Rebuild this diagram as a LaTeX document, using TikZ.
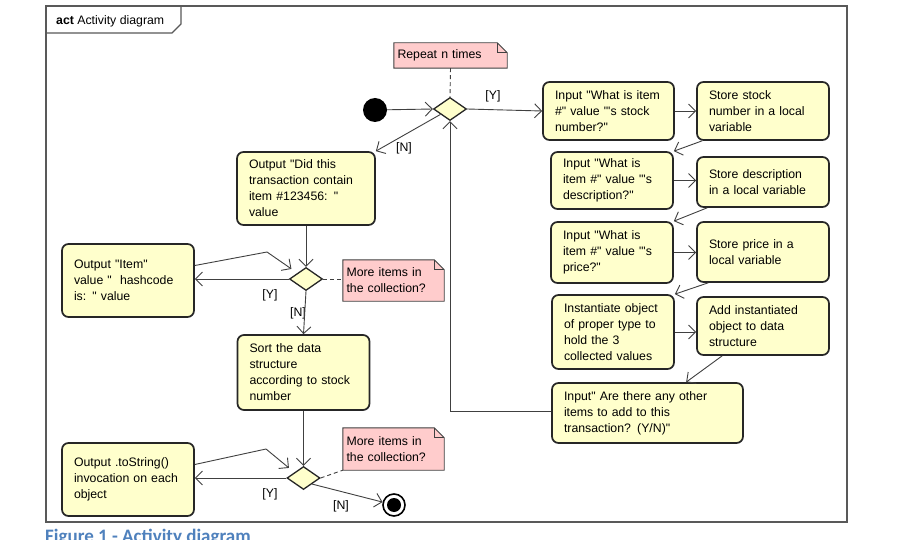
\documentclass[tikz,border=0pt]{standalone}
\usepackage{fontspec}
\newfontfamily\umlf{Liberation Sans}
\newfontfamily\capfont{Carlito}
\usetikzlibrary{arrows.meta,shapes.geometric}
\definecolor{uyel}{RGB}{255,255,204}
\definecolor{upink}{RGB}{255,204,204}
\definecolor{capblue}{RGB}{79,129,189}
\definecolor{edge}{RGB}{64,64,64}
\pgfdeclarelayer{notebg}
\pgfsetlayers{notebg,main}
\newcommand\notedraw[1]{%
  \begin{pgfonlayer}{notebg}
  \draw[notest] (#1.north west) -- ([shift={(-10,0)}]#1.north east) -- ([shift={(0,10)}]#1.north east) -- (#1.south east) -- (#1.south west) -- cycle;
  \draw[notefold] ([shift={(-10,0)}]#1.north east) -- ([shift={(-10,10)}]#1.north east) -- ([shift={(0,10)}]#1.north east);
  \end{pgfonlayer}}
\begin{document}
\begin{tikzpicture}[x=1pt,y=-1pt,
  every node/.style={font=\umlf\fontsize{12.3}{16}\selectfont},
  actbox/.style={draw=black!85, line width=1.7pt, rounded corners=6.5pt, fill=uyel, align=left, inner xsep=12pt, inner ysep=0pt},
  dec/.style={diamond, draw=black!85, line width=1.3pt, fill=uyel, minimum width=33pt, minimum height=23pt, inner sep=0pt},
  notebx/.style={align=left, inner xsep=3.5pt, inner ysep=0pt},
  notest/.style={draw=black!75, line width=0.9pt, fill=upink},
  notefold/.style={draw=black!75, line width=0.9pt},
  arr/.style={draw=edge, line width=0.9pt, -{Straight Barb[length=7pt,width=14pt]}},
  dsh/.style={draw=edge, line width=0.9pt, dash pattern=on 4pt off 3pt},
  lbl/.style={inner sep=0pt}]
\begin{pgfonlayer}{notebg}
\fill[white] (0,0) rectangle (905,540);
\end{pgfonlayer}
\useasboundingbox (0,0) rectangle (905,540);

% frame
\draw[draw=black!65, line width=1.4pt] (46,6) rectangle (847,522);
\draw[draw=black!65, line width=1.2pt] (46,33) -- (172,33) -- (181,24) -- (181,6);
\node[anchor=base west, inner sep=0pt] (title) at (56,25) {\textbf{act} Activity diagram};

% caption (cut by the page edge, as in the reference)
\begin{scope}
\clip (0,0) rectangle (905,540);
\node[anchor=base west, inner sep=0pt, font=\capfont\bfseries\fontsize{19}{22}\selectfont, text=capblue] (cap) at (45,542) {Figure 1 - Activity diagram};
\end{scope}

% start / decision 1 / note
\node[circle, fill=black, minimum size=24pt, inner sep=0pt] (init) at (375,110) {};
\node[dec] (d1) at (450,109) {};
\node[notebx, text width=106pt, minimum height=25pt] (n1) at (450.5,55.5) {Repeat n times};
\notedraw{n1}

% right column
\node[actbox, text width=107pt, minimum height=58pt] (A1) at (608.5,111) {Input "What is item\\\#" value "'s stock\\number?"};
\node[actbox, text width=108pt, minimum height=58pt] (B1) at (763,111) {Store stock\\number in a local\\variable};
\node[actbox, text width=98pt, minimum height=57pt] (A2) at (612,180.5) {Input "What is\\item \#" value "'s\\description?"};
\node[actbox, text width=108pt, minimum height=50pt] (B2) at (763,182) {Store description\\in a local variable};
\node[actbox, text width=98pt, minimum height=61pt] (A3) at (612,252.5) {Input "What is\\item \#" value "'s\\price?"};
\node[actbox, text width=108pt, minimum height=60pt] (B3) at (763,252) {Store price in a\\local variable};
\node[actbox, text width=98pt, minimum height=74pt] (A4) at (613,332) {Instantiate object\\of proper type to\\hold the 3\\collected values};
\node[actbox, text width=108pt, minimum height=58pt] (B4) at (763,326) {Add instantiated\\object to data\\structure};
\node[actbox, text width=167pt, minimum height=60pt] (A5) at (647.5,413) {Input" Are there any other\\items to add to this\\transaction? (Y/N)"};

% left part
\node[actbox, text width=114pt, minimum height=73pt] (O1) at (306,188.5) {Output "Did this\\transaction contain\\item \#123456: "\\value};
\node[dec] (d2) at (306,279) {};
\node[notebx, text width=94pt, minimum height=41pt] (n2) at (393.5,280.5) {More items in\\the collection?};
\notedraw{n2}
\node[actbox, text width=108pt, minimum height=73pt] (IT) at (128,280.5) {Output "Item"\\value "\ \ hashcode\\is: " value};
\node[actbox, text width=108pt, minimum height=75pt] (SO) at (303.5,372.5) {Sort the data\\structure\\according to stock\\number};
\node[dec] (d3) at (303.5,478) {};
\node[notebx, text width=94pt, minimum height=42pt] (n3) at (393.5,449) {More items in\\the collection?};
\notedraw{n3}
\node[actbox, text width=108pt, minimum height=73pt] (TS) at (128,479.5) {Output .toString()\\invocation on each\\object};
\node[circle, draw=black, line width=1.6pt, fill=white, minimum size=22pt, inner sep=0pt] (fin) at (394,505) {};
\node[circle, fill=black, minimum size=14pt, inner sep=0pt] (finc) at (394,505) {};

% coordinates for bends
\coordinate (c1) at (267,252);
\coordinate (c2) at (266,449);
\coordinate (lp) at (450,411);

% connectors
\draw[arr] (init) -- (d1.west);
\draw[dsh] (n1.south) -- (d1.north);
\draw[arr] (d1.east) -- (A1.west);
\node[lbl] (ly1) at (493,96) {[Y]};
\draw[arr] (d1) -- (O1.north east);
\node[lbl] (ln1) at (404,148) {[N]};
\draw[arr] (A1.east) -- (A1.east -| B1.west);
\draw[arr] ([shift={(6,0)}]B1.south west) -- (A2.north east);
\draw[arr] (A2.east) -- (A2.east -| B2.west);
\draw[arr] ([shift={(11,0)}]B2.south west) -- (A3.north east);
\draw[arr] (A3.east) -- (A3.east -| B3.west);
\draw[arr] ([shift={(12,0)}]B3.south west) -- (A4.north east);
\draw[arr] (A4.east) -- (A4.east -| B4.west);
\draw[arr] ([shift={(26,0)}]B4.south west) -- ([shift={(135,0)}]A5.north west);
\draw[arr] (A5.west |- lp) -- (lp) -- (d1.south);

\draw[arr] (O1.south) -- (d2.north);
\draw[dsh] (d2.east) -- (d2.east -| n2.west);
\draw[arr] (d2.west) -- (d2.west -| IT.east);
\node[lbl] (ly2) at (270,295) {[Y]};
\draw[arr] ([shift={(0,-15)}]IT.east) -- (c1) -- ([shift={(-6,-4)}]d2.north west);
\node[lbl] (ln2) at (298,313) {[N]};
\draw[arr] (d2.south) -- (SO.north);

\draw[arr] (SO.south) -- (d3.north);
\draw[dsh] (d3.east) -- (n3.south west);
\draw[arr] (d3.west) -- (d3.west -| TS.east);
\node[lbl] (ly3) at (270,494) {[Y]};
\draw[arr] ([shift={(0,-15)}]TS.east) -- (c2) -- ([shift={(-6,-4)}]d3.north west);
\draw[arr] (d3.south east) -- (fin);
\node[lbl] (ln3) at (341,506) {[N]};
\end{tikzpicture}
\end{document}
